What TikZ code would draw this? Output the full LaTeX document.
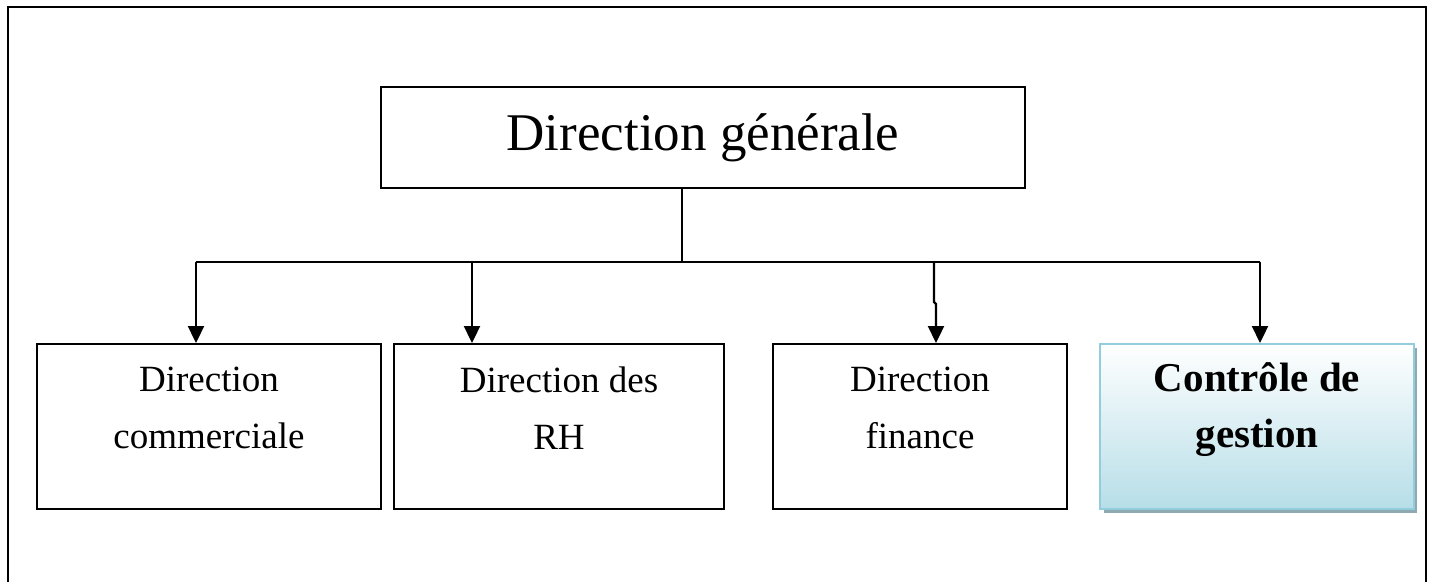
\documentclass[tikz,border=0pt]{standalone}
\usepackage{fontspec}
\setmainfont{Liberation Serif}
\usetikzlibrary{arrows.meta}
\definecolor{ctlborder}{HTML}{93CDDD}
\definecolor{ctlfill}{HTML}{B7DEE8}
\definecolor{ctlshadow}{HTML}{8FA9B0}
\tikzset{
  unit/.style={draw=black, line width=2pt, minimum height=165pt,
    anchor=north west, inner sep=0pt},
  caption/.style={align=center, font=\fontsize{37}{57}\selectfont, inner sep=0pt},
  head/.style={draw=black, line width=2pt, minimum width=644pt, minimum height=101pt,
    font=\fontsize{53}{60}\selectfont, anchor=north west, inner sep=0pt},
  link/.style={line width=2.3pt},
  down/.style={line width=2.3pt, -{Triangle[length=17pt,width=16pt]}},
}
\begin{document}
\begin{tikzpicture}[x=1pt,y=-1pt]
\useasboundingbox (0,0) rectangle (1432,581);
% outer frame, open at the bottom
\draw[line width=2.8pt] (8,585) -- (8,7) -- (1426,7) -- (1426,585);

% general management
\node[head] (dg) at (380,86) {Direction générale};

% departments
\node[unit, minimum width=344pt] (com) at (36,343) {};
\node[caption] (comtext) at ([yshift=-65pt]com.north) {Direction\\commerciale};
\node[unit, minimum width=330pt] (rh) at (393,343) {};
\node[caption] (rhtext) at ([yshift=-65pt]rh.north) {Direction des\\RH};
\node[unit, minimum width=294pt] (fin) at (772,343) {};
\node[caption] (fintext) at ([yshift=-65pt]fin.north) {Direction\\finance};

% management control, shaded with a drop shadow
\fill[ctlshadow] (1104,348) rectangle (1417,513);
\shade[top color=white, bottom color=ctlfill] (1099,343) rectangle (1413,508);
\node[unit, draw=ctlborder, minimum width=314pt] (cg) at (1099,343) {};
\node[caption, font=\fontsize{41}{56}\selectfont\bfseries] (cgtext)
  at ([yshift=-67pt]cg.north) {Contrôle de\\gestion};

% connectors
\coordinate (hub) at (682,262);
\draw[link] (dg.south -| hub) -- (hub);
\draw[link] (196,262) -- (1260,262);
\draw[down] (196,262) -- (com.north -| 196,0);
\draw[down] (472,262) -- (rh.north -| 472,0);
\draw[down] (934,262) -- (934,302) -- (936,304) -- (fin.north -| 936,0);
\draw[down] (1260,262) -- (cg.north -| 1260,0);
\end{tikzpicture}
\end{document}
